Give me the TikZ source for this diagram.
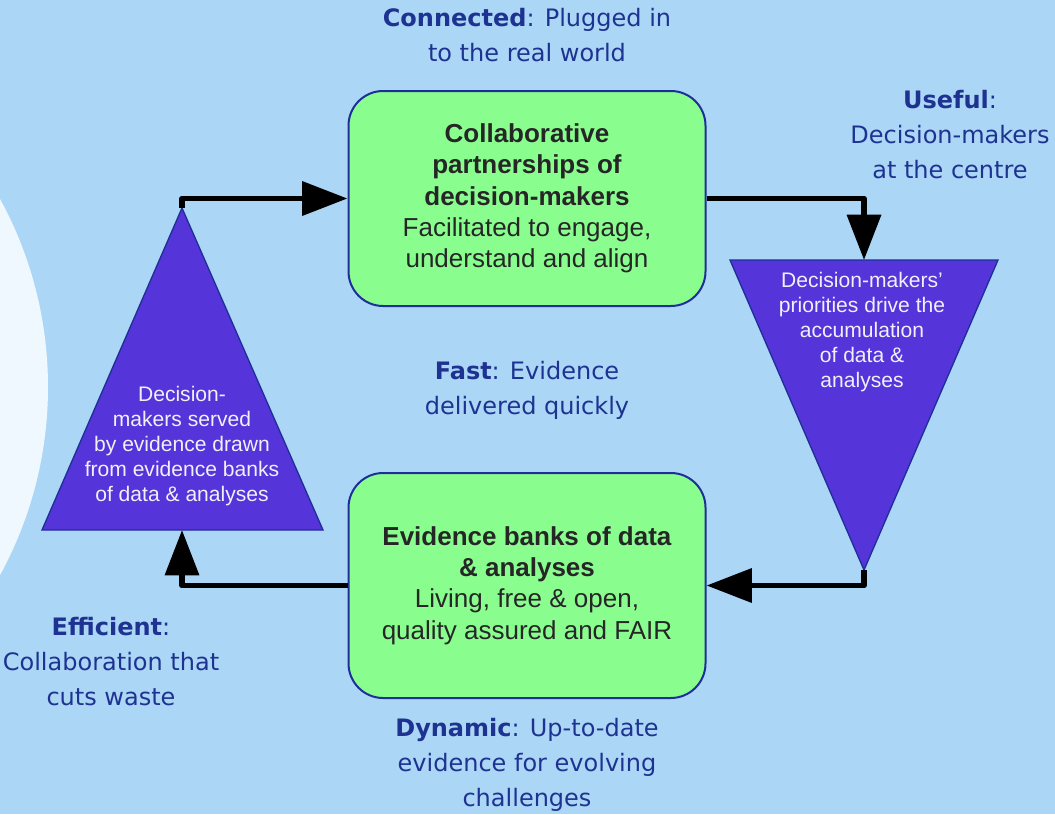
\documentclass[tikz,border=0pt]{standalone}
\usepackage{fontspec}
\setmainfont{Liberation Sans}
\newfontfamily\labelfont{DejaVu Sans}
\usetikzlibrary{arrows.meta,positioning}
\definecolor{sky}{HTML}{ABD6F5}
\definecolor{glowin}{HTML}{F8FCFF}
\definecolor{glowout}{HTML}{EEF8FE}
\definecolor{boxgreen}{HTML}{89FE8F}
\definecolor{boxline}{HTML}{1F2F99}
\definecolor{boxtext}{HTML}{262626}
\definecolor{tripurple}{HTML}{5534D9}
\definecolor{triwhite}{HTML}{F0F0F8}
\definecolor{labelblue}{HTML}{1E3391}

\begin{document}
\begin{tikzpicture}[x=0.75pt,y=-0.75pt,
  box/.style={draw=boxline,line width=1.5pt,fill=boxgreen,rounded corners=26pt,
    minimum width=267.75pt,text=boxtext,align=center,
    font=\fontsize{19.5}{23.5}\selectfont},
  tri/.style={fill=tripurple,draw=boxline,line width=1pt,line join=miter},
  tritext/.style={text=triwhite,align=center,font=\fontsize{15.8}{18.75}\selectfont},
  lab/.style={text=labelblue,align=center,font=\labelfont\fontsize{18}{26.25}\selectfont},
  flow/.style={line width=4.2pt,line join=round,-{Triangle[length=34pt,width=25pt]}}]
  \fill[sky] (0,0) rectangle (1055,814);
  \useasboundingbox (0,0) rectangle (1055,814);
  \begin{scope}
    \clip (0,0) rectangle (1055,814);
    \shade[inner color=glowin,outer color=glowout] (-344,387) circle (392);
  \end{scope}

  \node[box,minimum height=161.25pt] (collab) at (527,198.5)
    {\textbf{Collaborative}\\\textbf{partnerships of}\\\textbf{decision-makers}\\
     Facilitated to engage,\\understand and align};
  \node[box,minimum height=168.75pt] (banks) at (527,585.5)
    {\textbf{Evidence banks of data}\\\textbf{\& analyses}\\
     Living, free \& open,\\quality assured and FAIR};

  \coordinate (serve top) at (182,208);
  \coordinate (serve base) at (182,530);
  \coordinate (drive top) at (864,260);
  \coordinate (drive tip) at (864,570);
  \draw[tri] (42,530) -- (serve top) -- (323,530) -- cycle;
  \draw[tri] (730,260) -- (998,260) -- (drive tip) -- cycle;
  \node[tritext] (serve) at (182,446)
    {Decision-\\makers served\\by evidence drawn\\from evidence banks\\of data \& analyses};
  \node[tritext] (drive) at (862,332)
    {Decision-makers’\\priorities drive the\\accumulation\\of data \&\\analyses};

  \draw[flow] (serve top) |- (collab.west);
  \draw[flow] (collab.east) -| (drive top);
  \draw[flow] (drive tip) |- (banks.east);
  \draw[flow] (banks.west) -| (serve base);

  \node[lab] (connected) at (527,35) {\textbf{Connected}: Plugged in\\to the real world};
  \node[lab] (useful) at (950,135) {\textbf{Useful}:\\Decision-makers\\at the centre};
  \node[lab] (fast) at (527,390) {\textbf{Fast}: Evidence\\delivered quickly};
  \node[lab] (efficient) at (111,662) {\textbf{Efficient}:\\Collaboration that\\cuts waste};
  \node[lab] (dynamic) at (527,765) {\textbf{Dynamic}: Up-to-date\\evidence for evolving\\challenges};
\end{tikzpicture}
\end{document}
